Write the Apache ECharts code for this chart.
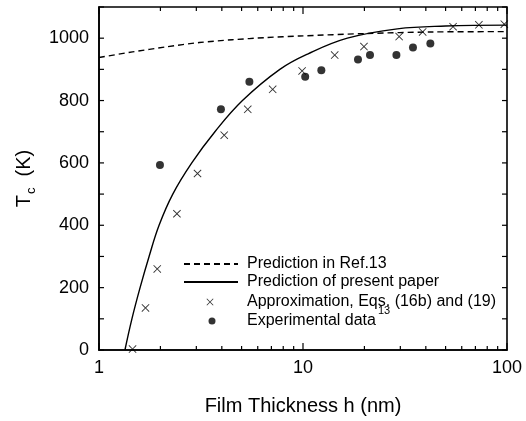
<!DOCTYPE html>
<html><head><meta charset="utf-8">
<script src="https://cdn.jsdelivr.net/npm/echarts@6/dist/echarts.min.js"></script>
<style>html,body{margin:0;padding:0;background:#fff}#c{width:526px;height:421px}</style>
</head><body><div id="c"></div>
<script>
// ---- data ----
const xRange = [1, 100];
const yRange = [0, 1100];
const xTickLabels = [1, 10, 100];
const yTickLabels = [0, 200, 400, 600, 800, 1000];
const xTickValues = [1, 2, 3, 4, 5, 6, 7, 8, 9, 10, 20, 30, 40, 50, 60, 70, 80, 90, 100];
const yTickValues = [0, 100, 200, 300, 400, 500, 600, 700, 800, 900, 1000, 1100];
const seriesNames = ['Prediction in Ref.13', 'Prediction of present paper', 'Approximation, Eqs. (16b) and (19)', 'Experimental data'];
const refLine = [[1, 938], [1.46, 956], [2.13, 972], [3.1, 986], [4.5, 995], [6.6, 1002], [9.6, 1007], [20.5, 1015], [43, 1020], [100, 1021]];
const presentLine = [[1.34, 0], [1.45, 100], [1.59, 200], [1.76, 300], [1.97, 400], [2.3, 500], [2.85, 600], [3.7, 700], [5.05, 800], [7.7, 900], [10.6, 950], [16.5, 1000], [29, 1030], [50, 1039], [100, 1042]];
const approxPts = [[1.46, 3], [1.69, 135], [1.93, 260], [2.41, 437], [3.04, 566], [4.11, 689], [5.36, 772], [7.1, 836], [9.9, 895], [14.3, 946], [19.9, 973], [29.6, 1005], [38.6, 1020], [54.4, 1037], [72.8, 1043], [97, 1045]];
const expPts = [[1.99, 593], [3.96, 772], [5.46, 860], [10.25, 876], [12.3, 897], [18.6, 932], [21.3, 946], [28.7, 946], [34.6, 970], [42.1, 983]];

// ---- chart ----
const FONT = '"Liberation Sans", Arial, Helvetica, sans-serif';
const crossPath = 'path://M0,0.8L0.8,0L5,4.2L9.2,0L10,0.8L5.8,5L10,9.2L9.2,10L5,5.8L0.8,10L0,9.2L4.2,5Z';
const chart = echarts.init(document.getElementById('c'));
const legendLayout = [[183, 256, 54, 4], [183, 274, 54, 4], [206.5, 294, 7, 28.5], [208.5, 305, 7, 26.5]];

function makeLegend(n, i) {
  const L = legendLayout[i];
  const isLine = i < 2;
  return {
    data: [n], left: L[0], top: L[1], orient: 'horizontal', padding: 0,
    itemWidth: L[2], itemHeight: 7, selectedMode: false,
    itemStyle: isLine ? { color: 'rgba(0,0,0,0)', borderWidth: 0 } : { color: '#000' },
    textStyle: { fontFamily: FONT, fontSize: 16, color: '#000',
      rich: { t: { fontFamily: FONT, fontSize: 16, lineHeight: 16, padding: [0, 0, 0, L[3]], color: '#000' },
              s: { fontFamily: FONT, fontSize: 11, lineHeight: 11, padding: [0, 0, 21, 2], color: '#000' } } },
    formatter: name => (name === 'Experimental data' ? '{t|' + name + '}{s|13}' : '{t|' + name + '}')
  };
}
function tickLine(x1, y1, x2, y2) {
  return { type: 'line', shape: { x1: x1, y1: y1, x2: x2, y2: y2 }, style: { stroke: '#000', lineWidth: 1.2 } };
}

chart.setOption({
  animation: false,
  grid: { left: 99, right: 19, top: 7, bottom: 71, containLabel: false },
  xAxis: {
    type: 'log', logBase: 10, min: xRange[0], max: xRange[1], position: 'bottom',
    axisLine: { show: true, onZero: false, lineStyle: { color: '#000', width: 1.6 } },
    splitLine: { show: false }, axisTick: { show: false },
    name: 'Film Thickness h (nm)', nameLocation: 'middle', nameGap: 46,
    nameTextStyle: { fontFamily: FONT, fontSize: 20, color: '#000' },
    axisLabel: { show: true, margin: 9, fontFamily: FONT, fontSize: 18, color: '#000',
      formatter: v => (xTickLabels.indexOf(Math.round(v)) >= 0 ? String(Math.round(v)) : '') }
  },
  yAxis: {
    type: 'value', min: yRange[0], max: yRange[1], interval: 100, position: 'left',
    axisLine: { show: true, onZero: false, lineStyle: { color: '#000', width: 1.6 } },
    splitLine: { show: false }, axisTick: { show: false },
    name: '{t|T}{s|c}{t|  (K)}', nameLocation: 'middle', nameGap: 62, nameRotate: 90,
    nameTextStyle: { fontFamily: FONT, color: '#000',
      rich: { t: { fontFamily: FONT, fontSize: 20, lineHeight: 20, color: '#000' },
              s: { fontFamily: FONT, fontSize: 13, lineHeight: 13, padding: [14, 0, 0, 1], color: '#000' } } },
    axisLabel: { show: true, margin: 10, fontFamily: FONT, fontSize: 18, color: '#000',
      formatter: v => (yTickLabels.indexOf(v) >= 0 ? String(v) : '') }
  },
  legend: seriesNames.map(makeLegend),
  series: [
    { name: seriesNames[0], type: 'line', data: refLine, symbol: 'none', smooth: 0.3,
      lineStyle: { color: '#000', width: 1.4, type: [6, 4] }, itemStyle: { color: '#000' } },
    { name: seriesNames[1], type: 'line', data: presentLine, symbol: 'none', smooth: 0.4,
      lineStyle: { color: '#000', width: 1.4, type: 'solid' }, itemStyle: { color: '#000' } },
    { name: seriesNames[2], type: 'scatter', data: approxPts, symbol: crossPath, symbolSize: 8, itemStyle: { color: '#000' } },
    { name: seriesNames[3], type: 'scatter', data: expPts, symbol: 'circle', symbolSize: 8, itemStyle: { color: '#000' } },
    // plot frame
    { name: 'frame', type: 'custom', silent: true, clip: false, z: 10,
      data: [[xRange[0], yRange[0], xRange[1], yRange[1]]], encode: { x: [0, 2], y: [1, 3] },
      renderItem: function (params, api) {
        const a = api.coord([api.value(0), api.value(1)]);
        const c = api.coord([api.value(2), api.value(3)]);
        return { type: 'rect', shape: { x: a[0], y: c[1], width: c[0] - a[0], height: a[1] - c[1] },
                 style: { fill: 'none', stroke: '#000', lineWidth: 1.6 } };
      } },
    // x ticks (bottom and top, inward)
    { name: 'xTicks', type: 'custom', silent: true, clip: false, z: 10,
      data: xTickValues.map(v => [v, yRange[0]]), encode: { x: 0, y: 1 },
      renderItem: function (params, api) {
        const v = api.value(0);
        const major = Math.abs(Math.log10(v) - Math.round(Math.log10(v))) < 1e-9;
        const len = major ? 7 : 4;
        const b = api.coord([v, yRange[0]]);
        const t = api.coord([v, yRange[1]]);
        return { type: 'group', children: [tickLine(b[0], b[1], b[0], b[1] - len), tickLine(t[0], t[1], t[0], t[1] + len)] };
      } },
    // y ticks (left and right, inward)
    { name: 'yTicks', type: 'custom', silent: true, clip: false, z: 10,
      data: yTickValues.map(v => [xRange[0], v]), encode: { x: 0, y: 1 },
      renderItem: function (params, api) {
        const v = api.value(1);
        const l = api.coord([xRange[0], v]);
        const r = api.coord([xRange[1], v]);
        return { type: 'group', children: [tickLine(l[0], l[1], l[0] + 5, l[1]), tickLine(r[0], r[1], r[0] - 5, r[1])] };
      } }
  ]
});
</script></body></html>
